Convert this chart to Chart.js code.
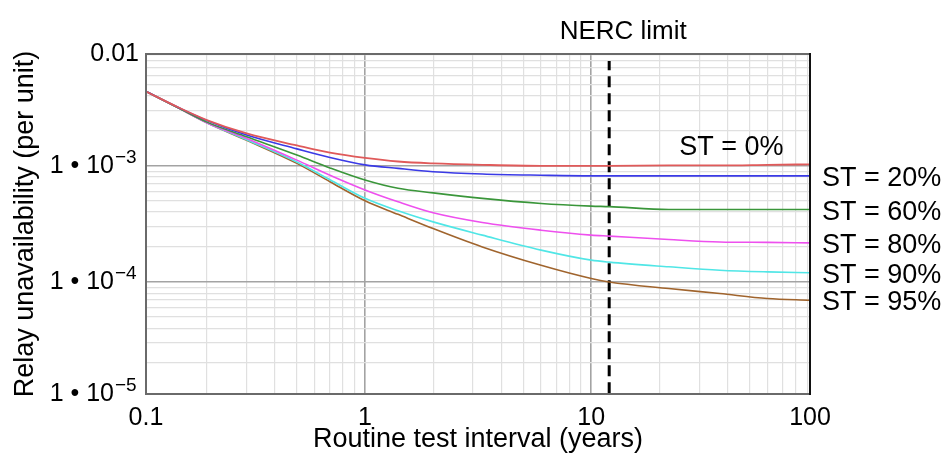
<!DOCTYPE html>
<html><head><meta charset="utf-8">
<script src="https://cdn.jsdelivr.net/npm/chart.js@4.4.1/dist/chart.umd.min.js"></script>
<style>html,body{margin:0;padding:0;background:#fff;}</style>
</head><body>
<canvas id="c" width="947" height="468"></canvas>
<script>
// ---- data ----
const intervals = [0.107, 0.15, 0.2, 0.3, 0.5, 0.7, 1, 1.4, 2, 3.3, 6, 10, 12, 22, 37, 60, 93];
const st0  = [4.4e-3, 3.18e-3, 2.48e-3, 1.90e-3, 1.50e-3, 1.30e-3, 1.17e-3, 1.09e-3, 1.05e-3, 1.02e-3, 1.0e-3, 1.0e-3, 1.0e-3, 1.01e-3, 1.01e-3, 1.02e-3, 1.03e-3];
const st20 = [4.4e-3, 3.18e-3, 2.46e-3, 1.84e-3, 1.40e-3, 1.18e-3, 1.02e-3, 9.5e-4, 8.9e-4, 8.5e-4, 8.3e-4, 8.2e-4, 8.2e-4, 8.2e-4, 8.2e-4, 8.2e-4, 8.2e-4];
const st60 = [4.4e-3, 3.15e-3, 2.38e-3, 1.78e-3, 1.24e-3, 9.6e-4, 7.55e-4, 6.4e-4, 5.85e-4, 5.24e-4, 4.74e-4, 4.5e-4, 4.45e-4, 4.21e-4, 4.2e-4, 4.2e-4, 4.2e-4];
const st80 = [4.4e-3, 3.15e-3, 2.35e-3, 1.72e-3, 1.12e-3, 8.3e-4, 6.2e-4, 4.9e-4, 3.94e-4, 3.25e-4, 2.79e-4, 2.53e-4, 2.48e-4, 2.32e-4, 2.21e-4, 2.19e-4, 2.17e-4];
const st90 = [4.4e-3, 3.15e-3, 2.35e-3, 1.68e-3, 1.08e-3, 7.6e-4, 5.25e-4, 4.1e-4, 3.29e-4, 2.53e-4, 1.88e-4, 1.54e-4, 1.48e-4, 1.35e-4, 1.26e-4, 1.22e-4, 1.20e-4];
const st95 = [4.4e-3, 3.15e-3, 2.35e-3, 1.66e-3, 1.05e-3, 7.3e-4, 5.0e-4, 3.82e-4, 2.88e-4, 2.0e-4, 1.39e-4, 1.07e-4, 1.0e-4, 8.77e-5, 7.94e-5, 7.2e-5, 6.95e-5];
const seriesLabels = ["ST = 0%", "ST = 20%", "ST = 60%", "ST = 80%", "ST = 90%", "ST = 95%"];
const nercLimit = 12;
const nercLabel = "NERC limit";
const xTickValues = [0.1, 1, 10, 100];
const xTickLabels = ["0.1", "1", "10", "100"];
const yTickValues = [1e-5, 1e-4, 1e-3, 0.01];
const yTickBases = ["1 \u2022 10", "1 \u2022 10", "1 \u2022 10", "0.01"];
const yTickExponents = ["\u22125", "\u22124", "\u22123", ""];
const xTitle = "Routine test interval (years)";
const yTitle = "Relay unavailability (per unit)";

// ---- styling ----
const FONT = "'Liberation Sans', Arial, sans-serif";
const TICK_SIZE = 25, EXP_SIZE = 19, TITLE_SIZE = 27, NOTE_SIZE = 27;
const EXP_SPACER = "\u2002\u2002";
const seriesColors = ["#e05a5a", "#3a3ae6", "#3a963a", "#ee50ee", "#50e6e6", "#a0642d"];
const X_MIN = 0.1077, X_MAX = 92.6, Y_MIN = 1.083e-5, Y_MAX = 9.19e-3;
const Y_TICK_PAD = 7;

const seriesValues = [st0, st20, st60, st80, st90, st95];
const datasets = seriesValues.map((vals, i) => ({
  label: seriesLabels[i],
  data: intervals.map((x, k) => ({x: x, y: vals[k]})),
  borderColor: seriesColors[i],
  borderWidth: i === 0 ? 1.8 : 1.6,
  pointRadius: 0,
  showLine: true,
  cubicInterpolationMode: 'monotone'
}));
datasets.push({
  label: nercLabel,
  data: [{x: nercLimit, y: 1.1e-5}, {x: nercLimit, y: 8.0e-3}],
  borderColor: "#000",
  borderWidth: 3,
  borderDash: [11, 6],
  pointRadius: 0,
  showLine: true
});

function buildLogTicks(min, max, labelValues, labels) {
  const ticks = [];
  for (let e = Math.floor(Math.log10(min)); e <= Math.ceil(Math.log10(max)); e++) {
    for (let m = 1; m <= 9; m++) {
      const v = m * Math.pow(10, e);
      if (v > min * 1.0001 && v < max * 0.9999) ticks.push({value: v, isMajor: m === 1, lbl: ''});
    }
  }
  labelValues.forEach((lv, i) => {
    const v = Math.min(Math.max(lv, min), max);
    const ex = ticks.find(t => Math.abs(Math.log10(t.value) - Math.log10(v)) < 1e-6);
    if (ex) ex.lbl = labels[i];
    else ticks.push({value: v, isMajor: false, edge: true, lbl: labels[i]});
  });
  ticks.sort((a, b) => a.value - b.value);
  return ticks;
}
function gridColor(ctx) {
  const t = ctx.tick;
  if (!t || t.edge) return 'rgba(0,0,0,0)';
  return t.isMajor ? '#a3a3a3' : '#e0e0e0';
}
function gridWidth(ctx) {
  const t = ctx.tick;
  return t && t.isMajor ? 1.6 : 1.2;
}
const yLabelTexts = yTickBases.map((b, i) => yTickExponents[i] ? b + EXP_SPACER : b);

const annotPlugin = {
  id: 'annot',
  afterDatasetsDraw(chart) {
    const {ctx, chartArea: a, scales: {x, y}} = chart;
    ctx.save();
    // frame
    ctx.lineWidth = 2;
    ctx.strokeStyle = '#6a6a6a';
    ctx.beginPath();
    ctx.moveTo(a.right, a.top); ctx.lineTo(a.left, a.top); ctx.lineTo(a.left, a.bottom); ctx.lineTo(a.right, a.bottom);
    ctx.stroke();
    ctx.strokeStyle = '#111';
    ctx.beginPath(); ctx.moveTo(a.right, a.top - 1); ctx.lineTo(a.right, a.bottom + 1); ctx.stroke();
    ctx.fillStyle = '#000';
    // y tick exponents
    ctx.font = TICK_SIZE + 'px ' + FONT;
    const spacerW = ctx.measureText(EXP_SPACER).width;
    ctx.font = EXP_SIZE + 'px ' + FONT;
    ctx.textAlign = 'left';
    ctx.textBaseline = 'alphabetic';
    yTickValues.forEach((v, i) => {
      if (!yTickExponents[i]) return;
      const py = y.getPixelForValue(Math.min(Math.max(v, Y_MIN), Y_MAX));
      ctx.fillText(yTickExponents[i], a.left - Y_TICK_PAD - spacerW + 1, py - 3);
    });
    // NERC label
    ctx.font = '26px ' + FONT;
    ctx.textAlign = 'center';
    ctx.fillText(nercLabel, x.getPixelForValue(nercLimit) + 14, 39);
    // series labels
    ctx.font = NOTE_SIZE + 'px ' + FONT;
    ctx.textAlign = 'left';
    const redY = y.getPixelForValue(st0[st0.length - 1]);
    ctx.fillText(seriesLabels[0], x.getPixelForValue(24.5), redY - 9);
    for (let i = 1; i < seriesLabels.length; i++) {
      const vals = seriesValues[i];
      const py = y.getPixelForValue(vals[vals.length - 1]);
      ctx.fillText(seriesLabels[i], a.right + 12, py + 10);
    }
    ctx.restore();
  }
};

new Chart(document.getElementById('c'), {
  type: 'scatter',
  data: {datasets},
  options: {
    responsive: false,
    animation: false,
    devicePixelRatio: 1,
    layout: {padding: {top: 54, right: 137, left: 0, bottom: 0}},
    plugins: {legend: {display: false}, tooltip: {enabled: false}},
    scales: {
      x: {
        type: 'logarithmic',
        min: X_MIN, max: X_MAX,
        afterBuildTicks: s => { s.ticks = buildLogTicks(X_MIN, X_MAX, xTickValues, xTickLabels); },
        afterFit: s => { s.height = 74; },
        border: {display: false},
        grid: {color: gridColor, lineWidth: gridWidth, drawTicks: false},
        ticks: {
          autoSkip: false, maxRotation: 0, padding: 9, color: '#000',
          font: {family: FONT, size: TICK_SIZE},
          callback: (v, i, ticks) => ticks[i].lbl
        },
        title: {display: true, text: xTitle, color: '#000', font: {family: FONT, size: TITLE_SIZE}, padding: {top: 0, bottom: 12}}
      },
      y: {
        type: 'logarithmic',
        min: Y_MIN, max: Y_MAX,
        afterBuildTicks: s => { s.ticks = buildLogTicks(Y_MIN, Y_MAX, yTickValues, yLabelTexts); },
        afterFit: s => { s.width = 146; },
        border: {display: false},
        grid: {color: gridColor, lineWidth: gridWidth, drawTicks: false},
        ticks: {
          autoSkip: false, padding: Y_TICK_PAD, color: '#000',
          font: {family: FONT, size: TICK_SIZE},
          callback: (v, i, ticks) => ticks[i].lbl
        },
        title: {display: true, text: yTitle, color: '#000', font: {family: FONT, size: TITLE_SIZE}, padding: {top: 9, bottom: 0}}
      }
    }
  },
  plugins: [annotPlugin]
});
</script>
</body></html>
